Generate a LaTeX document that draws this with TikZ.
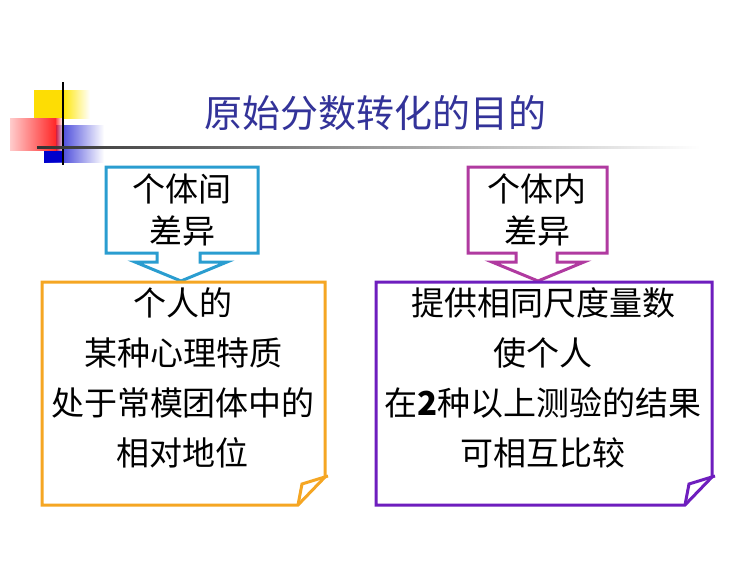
\documentclass[tikz,border=0pt]{standalone}
\usepackage{fontspec}
\setmainfont{Noto Sans CJK SC}
\begin{document}
\begin{tikzpicture}[x=1pt,y=-1pt,
  txt/.style={font=\fontsize{33}{50}\selectfont, align=center, text=black},
  ctxt/.style={font=\fontsize{33}{42}\selectfont, align=center, text=black},
  lw/.style={line width=3pt, line join=miter}]
\useasboundingbox (0,0) rectangle (750,562);
\fill[white] (0,0) rectangle (750,562);
% logo
\fill[yellow!80!orange] (34,90) rectangle (62,118);
\shade[left color=yellow!80!orange, right color=white] (62,90) rectangle (90,118);
\shade[left color=blue!80!black, right color=white] (44,125) rectangle (104,162);
\fill[blue!80!black] (44,125) rectangle (64,162);
\shade[left color=red!20, right color=red!85] (10,118) rectangle (56,150);
\shade[left color=red!85, right color=red!10, opacity=0.8] (56,118) rectangle (62,150);
\draw[line width=2pt] (63,82) -- (63,165);
\shade[left color=black!80, right color=white] (37,146) rectangle (700,148.5);
% title
\node[font=\fontsize{38}{44}\selectfont, text={rgb,255:red,51;green,51;blue,153}] (title) at (375,113) {原始分数转化的目的};
% left callout
\draw[lw, color={rgb,255:red,42;green,157;blue,208}]
  (106,167) -- (258,167) -- (258,253) -- (200,253) -- (200,262) -- (227,262) -- (181,281)
  -- (135,262) -- (157,262) -- (157,253) -- (106,253) -- cycle;
\node[ctxt] (a) at (182,210) {个体间\\差异};
% right callout
\draw[lw, color={rgb,255:red,176;green,58;blue,160}]
  (468,167) -- (607,167) -- (607,253) -- (557,253) -- (557,262) -- (584,262) -- (538,281)
  -- (492,262) -- (516,262) -- (516,253) -- (468,253) -- cycle;
\node[ctxt] (b) at (537,210) {个体内\\差异};
% left box
\draw[lw, color={rgb,255:red,245;green,166;blue,35}]
  (42,282) -- (325,282) -- (325,477) -- (298,505) -- (42,505) -- cycle;
\draw[lw, color={rgb,255:red,245;green,166;blue,35}] (328,476) -- (302,484) -- (298,505);
\node[txt] (c) at (183,378) {个人的\\某种心理特质\\处于常模团体中的\\相对地位};
% right box
\draw[lw, color={rgb,255:red,110;green,30;blue,190}]
  (376,282) -- (712,282) -- (712,477) -- (685,505) -- (376,505) -- cycle;
\draw[lw, color={rgb,255:red,110;green,30;blue,190}] (715,476) -- (689,484) -- (685,505);
\node[txt] (d) at (543,378) {提供相同尺度量数\\使个人\\在\textbf{2}种以上测验的结果\\可相互比较};
\end{tikzpicture}
\end{document}
